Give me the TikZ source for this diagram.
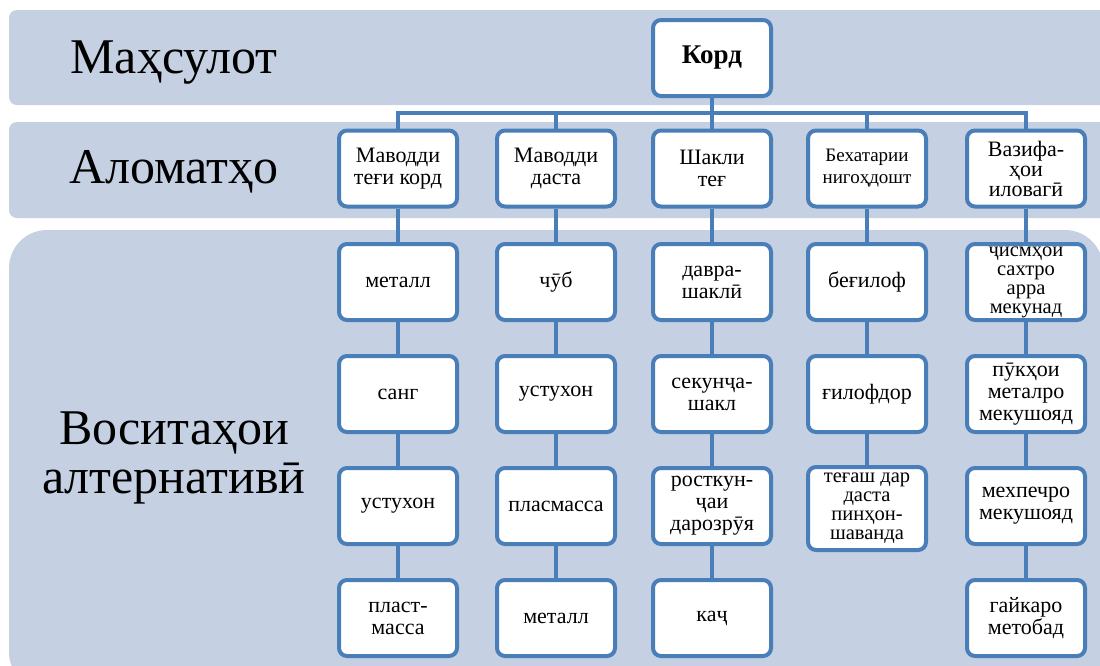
\documentclass[tikz,border=0pt]{standalone}
\usepackage{fontspec}
\setmainfont{Liberation Serif}
\usetikzlibrary{arrows.meta, positioning}

\definecolor{bandblue}{RGB}{197,208,226}
\definecolor{boxblue}{RGB}{74,126,185}

\begin{document}
\begin{tikzpicture}[x=1pt, y=-1pt,
    band/.style={fill=bandblue, draw=none},
    item/.style={draw=boxblue, line width=4pt, rounded corners=8pt, fill=white,
                 minimum width=118pt, minimum height=76pt, align=center,
                 inner sep=1pt, font=\fontsize{22}{22}\selectfont},
    small/.style={font=\fontsize{20.5}{19}\selectfont},
    link/.style={draw=boxblue, line width=4pt},
    title/.style={align=center, font=\fontsize{50}{49}\selectfont}]
  \useasboundingbox (0,0) rectangle (1100,665);

  % Bands
  \begin{scope}
    \clip (0,0) rectangle (1100,665);
    \fill[band, rounded corners=8pt] (9,10) rectangle (1130,105);
    \fill[band, rounded corners=8pt] (9,122) rectangle (1130,218);
    \fill[band, rounded corners=38pt] (9,230) rectangle (1103,690);
  \end{scope}

  % Row titles
  \node[title, anchor=base] (product) at (174,73) {Маҳсулот};
  \node[title, anchor=base] (signs) at (174,183) {Аломатҳо};
  \node[title] (means) at (174,458) {Воситаҳои\\алтернативӣ};

  % Product
  \node[item, font=\bfseries\fontsize{27}{27}\selectfont] (kord) at (712,58) {Корд};

  % Properties
  \node[item] (prop1) at (398,168.5) {Маводди\\теғи корд};
  \node[item] (prop2) at (556,168.5) {Маводди\\даста};
  \node[item] (prop3) at (712,168.5) {Шакли\\теғ};
  \node[item, font=\fontsize{19}{22}\selectfont] (prop4) at (867,168.5) {Бехатарии\\нигоҳдошт};
  \node[item, font=\fontsize{22}{20}\selectfont] (prop5) at (1026,168.5) {Вазифа-\\ҳои\\иловагӣ};

  % Alternatives
  \node[item] (alt1-1) at (398,282) {металл};
  \node[item] (alt1-2) at (398,394) {санг};
  \node[item] (alt1-3) at (398,506) {устухон};
  \node[item] (alt1-4) at (398,618) {пласт-\\масса};

  \node[item] (alt2-1) at (556,282) {чӯб};
  \node[item] (alt2-2) at (556,394) {устухон};
  \node[item] (alt2-3) at (556,506) {пласмасса};
  \node[item] (alt2-4) at (556,618) {металл};

  \node[item] (alt3-1) at (712,282) {давра-\\шаклӣ};
  \node[item] (alt3-2) at (712,394) {секунҷа-\\шакл};
  \node[item] (alt3-3) at (712,506) {росткун-\\ҷаи\\дарозрӯя};
  \node[item] (alt3-4) at (712,618) {каҷ};

  \node[item] (alt4-1) at (867,282) {беғилоф};
  \node[item] (alt4-2) at (867,394) {ғилофдор};
  \node[item, small, minimum height=83pt] (alt4-3) at (867,508.5)
    {теғаш дар\\даста\\пинҳон-\\шаванда};

  \node[item, small] (alt5-1) at (1026,282) {ҷисмҳои\\сахтро\\арра\\мекунад};
  \node[item] (alt5-2) at (1026,394) {пӯкҳои\\металро\\мекушояд};
  \node[item] (alt5-3) at (1026,506) {мехпечро\\мекушояд};
  \node[item] (alt5-4) at (1026,618) {гайкаро\\метобад};

  % Links
  \coordinate (bus) at (712,113);
  \draw[link] (kord) -- (bus);
  \foreach \c in {1,...,5}
    \draw[link] (bus) -| (prop\c);
  \foreach \c/\n in {1/4, 2/4, 3/4, 4/3, 5/4} {
    \draw[link] (prop\c) -- (alt\c-1);
    \foreach \r in {2,...,\n} {
      \pgfmathtruncatemacro{\p}{\r-1}
      \draw[link] (alt\c-\p) -- (alt\c-\r);
    }
  }
\end{tikzpicture}
\end{document}
